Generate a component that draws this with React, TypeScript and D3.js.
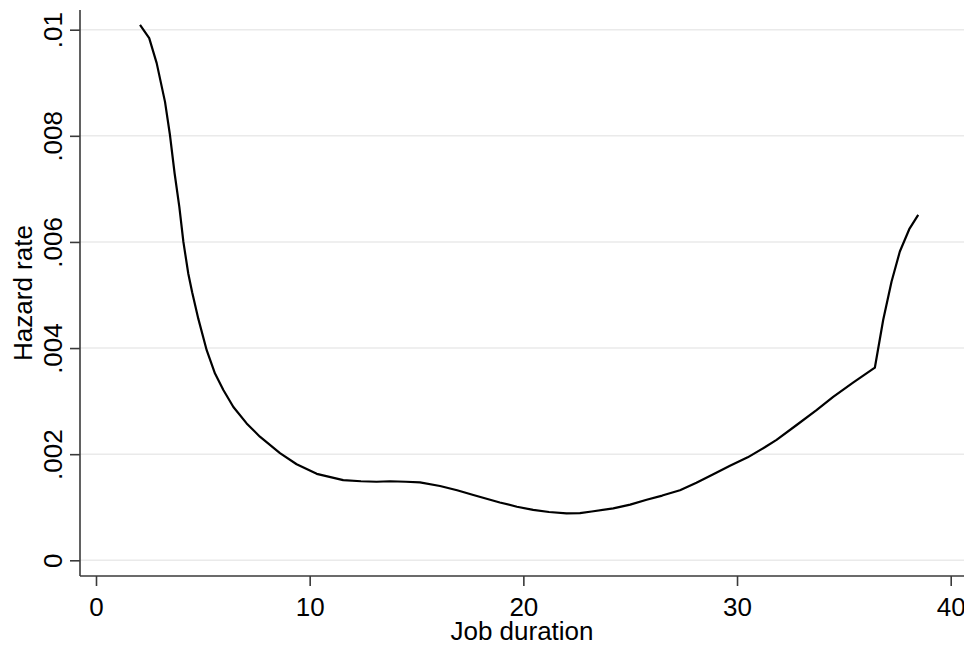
import React, { useEffect, useRef } from 'react';
import * as d3 from 'd3';

// job duration (years) and smoothed hazard estimate
const duration = [
  2.06, 2.49, 2.84, 3.23, 3.46, 3.68, 3.9, 4.09, 4.32, 4.5, 4.79, 5.18, 5.57, 5.96, 6.43,
  7.05, 7.67, 8.61, 9.39, 10.33, 11.57, 12.4, 13.13, 13.76, 14.5, 15.16, 16.1, 16.9, 17.66,
  18.9, 19.7, 20.46, 21.2, 22.02, 22.65, 23.2, 24.21, 25.0, 25.77, 26.5, 27.33, 28.1, 28.89,
  29.67, 30.5, 31.3, 31.85, 32.79, 33.72, 34.5, 35.43, 36.45, 36.84, 37.23, 37.62, 38.06, 38.48,
];
const hazard = [
  0.01009, 0.00984, 0.00937, 0.00864, 0.00802, 0.00729, 0.00666, 0.006, 0.0054, 0.00505,
  0.00455, 0.00396, 0.00352, 0.00321, 0.00289, 0.00258, 0.00233, 0.00202, 0.00181, 0.00163,
  0.00151, 0.00149, 0.00148, 0.00149, 0.00148, 0.00147, 0.0014, 0.00132, 0.00123, 0.00109,
  0.00101, 0.00095, 0.00091, 0.000886, 0.00089, 0.00092, 0.00098, 0.00105, 0.00114, 0.00122,
  0.00132, 0.00146, 0.00162, 0.00178, 0.00194, 0.00213, 0.00227, 0.00255, 0.00283, 0.00308,
  0.00335, 0.00363, 0.00453, 0.00525, 0.00582, 0.00624, 0.00651,
];

const xTicks = [0, 10, 20, 30, 40];
const yTicks = [0, 0.002, 0.004, 0.006, 0.008, 0.01];
const yTickLabels = ['0', '.002', '.004', '.006', '.008', '.01'];

const W = 964;
const H = 646;

export default function App() {
  const svgRef = useRef<SVGSVGElement>(null);

  useEffect(() => {
    if (!svgRef.current) return;
    const svg = d3.select(svgRef.current);
    svg.selectAll('*').remove();

    const left = 80;
    const bottom = 576;
    const top = 10;

    const x = d3.scaleLinear().domain([0, 40]).range([96, 950.7]);
    const y = d3.scaleLinear().domain([0, 0.01]).range([560.3, 29.7]);

    const font = 'Liberation Sans, Arial, Helvetica, sans-serif';
    const fontSize = '26px';

    // gridlines
    svg.append('g')
      .selectAll('line')
      .data(yTicks)
      .enter().append('line')
      .attr('x1', left)
      .attr('x2', W)
      .attr('y1', d => y(d))
      .attr('y2', d => y(d))
      .attr('stroke', '#eaeaea')
      .attr('stroke-width', 1.6);

    // y axis
    const yAxis = svg.append('g')
      .attr('transform', `translate(${left},0)`)
      .call(d3.axisLeft(y).tickValues(yTicks).tickSize(10)
        .tickFormat((_, i) => yTickLabels[i]));
    yAxis.select('.domain').attr('d', `M0,${top}V${bottom}`);
    yAxis.selectAll('.tick text')
      .attr('x', null)
      .attr('dy', null)
      .attr('transform', 'translate(-18,0) rotate(-90)')
      .attr('text-anchor', 'middle')
      .style('font-family', font)
      .style('font-size', fontSize)
      .style('fill', '#000');

    // x axis
    const xAxis = svg.append('g')
      .attr('transform', `translate(0,${bottom})`)
      .call(d3.axisBottom(x).tickValues(xTicks).tickSize(10)
        .tickFormat(d3.format('d')));
    xAxis.select('.domain').attr('d', `M${left},0H${W}`);
    xAxis.selectAll('.tick text')
      .attr('y', null)
      .attr('dy', null)
      .attr('transform', 'translate(0,39.5)')
      .style('font-family', font)
      .style('font-size', fontSize)
      .style('fill', '#000');

    svg.selectAll('.domain, .tick line')
      .attr('stroke', '#3a3a3a')
      .attr('stroke-width', 1.6);

    // hazard curve
    const pts = duration.map((d, i) => [d, hazard[i]] as [number, number]);
    svg.append('path')
      .datum(pts)
      .attr('fill', 'none')
      .attr('stroke', '#000')
      .attr('stroke-width', 2.2)
      .attr('stroke-linejoin', 'round')
      .attr('d', d3.line<[number, number]>()
        .x(d => x(d[0]))
        .y(d => y(d[1])));

    // axis titles
    svg.append('text')
      .attr('x', (left + W) / 2)
      .attr('y', 640)
      .attr('text-anchor', 'middle')
      .style('font-family', font)
      .style('font-size', fontSize)
      .text('Job duration');

    svg.append('text')
      .attr('transform', `translate(32,${(top + bottom) / 2}) rotate(-90)`)
      .attr('text-anchor', 'middle')
      .style('font-family', font)
      .style('font-size', fontSize)
      .text('Hazard rate');
  }, []);

  return (
    <svg
      ref={svgRef}
      width={W}
      height={H}
      viewBox={`0 0 ${W} ${H}`}
      style={{ position: 'absolute', left: 0, top: 0, background: '#fff' }}
    />
  );
}
